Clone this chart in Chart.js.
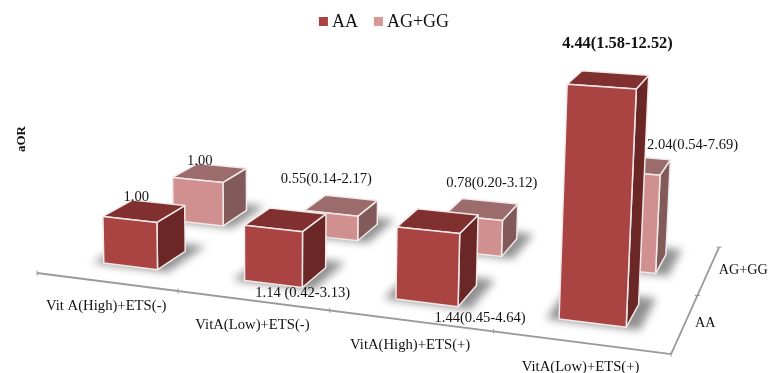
<!DOCTYPE html>
<html>
<head>
<meta charset="utf-8">
<title>aOR chart</title>
<script src="https://cdn.jsdelivr.net/npm/chart.js@4"></script>
<style>
    html, body { margin: 0; padding: 0; background: #fff; }
    canvas { display: block; }
</style>
</head>
<body>
<canvas id="aorChart" width="768" height="373"></canvas>
<script>
// Chart data
const categories = ['Vit A(High)+ETS(-)', 'VitA(Low)+ETS(-)', 'VitA(High)+ETS(+)', 'VitA(Low)+ETS(+)'];
const aaValues = [1.00, 1.14, 1.44, 4.44];
const aggValues = [1.00, 0.55, 0.78, 2.04];
const aaLabels = ['1.00', '1.14 (0.42-3.13)', '1.44(0.45-4.64)', '4.44(1.58-12.52)'];
const aggLabels = ['1.00', '0.55(0.14-2.17)', '0.78(0.20-3.12)', '2.04(0.54-7.69)'];
const seriesNames = ['AA', 'AG+GG'];
const axisTitle = 'aOR';

// Colours of each series: front, top, side
const aaFaces = ['#a94442', '#7f302f', '#6a2725'];
const aggFaces = ['#d09090', '#9c6b6b', '#825a5a'];
const edgeColor = '#f1e9e9';
const axisColor = '#9a9a9a';
const serifFont = '"Liberation Serif", "Times New Roman", serif';

// Where the floor and the bar rows sit in the 3D box
const rowDepth = [0.26, 0.76];
const barDepth = 0.2;
const yMax = 5;

// Label position relative to the middle of a bar's top, in pixels
const aaLabelOffsets = [[-8, -14], [17, 74], [42, 97], [9, -36]];
const aggLabelOffsets = [[-10, -12], [-15, -26], [10, -26], [58, -20]];

// Perspective: maps t (0..4 along the categories), d (0..1 into the page) and z (height in value units)
function project(t, d, z) {
    const g = -0.0056 * z;
    const w = 1 - 0.0355 * t + 0.183 * d + g;
    return {
        x: (37 + 134.7 * t + 172.8 * d + 270 * g) / w,
        y: (273 + 7.7 * t - 46.5 * d + 8700 * g) / w
    };
}

function fillFace(ctx, points, color, stroke) {
    ctx.beginPath();
    points.forEach((p, i) => i ? ctx.lineTo(p.x, p.y) : ctx.moveTo(p.x, p.y));
    ctx.closePath();
    ctx.fillStyle = color;
    ctx.fill();
    if (stroke) {
        ctx.strokeStyle = edgeColor;
        ctx.lineWidth = 1.5;
        ctx.lineJoin = 'round';
        ctx.stroke();
    }
}

function drawLine(ctx, a, b) {
    ctx.beginPath();
    ctx.moveTo(a.x, a.y);
    ctx.lineTo(b.x, b.y);
    ctx.stroke();
}

function drawText(ctx, text, x, y, font, align) {
    ctx.font = font;
    ctx.fillStyle = '#111';
    ctx.textAlign = align || 'center';
    ctx.textBaseline = 'middle';
    ctx.fillText(text, x, y);
}

// Read a bar element from the library's scales and turn it into box coordinates
function barBox(chart, bar) {
    const perCategory = chart.scales.x.width / categories.length;
    const unit = chart.scales.y.getPixelForValue(0) - chart.scales.y.getPixelForValue(1);
    return {
        t0: (bar.x - bar.width / 2 - chart.scales.x.left) / perCategory,
        t1: (bar.x + bar.width / 2 - chart.scales.x.left) / perCategory,
        z: (bar.base - bar.y) / unit
    };
}

// Floor shadows
function drawShadow(ctx, box, depth) {
    const d0 = depth - barDepth / 2 - 0.01;
    const d1 = depth + barDepth / 2 + 0.07;
    ctx.save();
    ctx.filter = 'blur(4px)';
    fillFace(ctx, [
        project(box.t0 - 0.07, d0, 0),
        project(box.t1 + 0.08, d0, 0),
        project(box.t1 + 0.08, d1, 0),
        project(box.t0 - 0.07, d1, 0)
    ], 'rgba(70, 70, 70, 0.6)');
    ctx.restore();
}

// One 3D bar
function drawBar(ctx, box, depth, faces) {
    const d0 = depth - barDepth / 2;
    const d1 = depth + barDepth / 2;
    fillFace(ctx, [project(box.t1, d0, 0), project(box.t1, d1, 0), project(box.t1, d1, box.z), project(box.t1, d0, box.z)], faces[2], true);
    fillFace(ctx, [project(box.t0, d0, box.z), project(box.t1, d0, box.z), project(box.t1, d1, box.z), project(box.t0, d1, box.z)], faces[1], true);
    fillFace(ctx, [project(box.t0, d0, 0), project(box.t1, d0, 0), project(box.t1, d0, box.z), project(box.t0, d0, box.z)], faces[0], true);
}

function drawFloorAxes(ctx) {
    ctx.strokeStyle = axisColor;
    ctx.lineWidth = 1.8;
    drawLine(ctx, project(0, 0, 0), project(categories.length, 0, 0));
    drawLine(ctx, project(categories.length, 0, 0), project(categories.length, 1, 0));
    ctx.lineWidth = 1;
    for (let t = 0; t <= categories.length; t++) {
        const p = project(t, 0, 0);
        drawLine(ctx, { x: p.x, y: p.y - 2.5 }, { x: p.x, y: p.y + 2.5 });
    }
    [0.5, 1].forEach(d => {
        const p = project(categories.length, d, 0);
        drawLine(ctx, { x: p.x - 2.5, y: p.y }, { x: p.x + 2.5, y: p.y });
    });
}

function drawLegend(chart) {
    const ctx = chart.ctx;
    const font = '18px ' + serifFont;
    const boxSize = 9;
    const textGap = 4;
    const itemGap = 16;
    ctx.font = font;
    const widths = seriesNames.map(name => boxSize + textGap + ctx.measureText(name).width);
    let x = (chart.width - widths[0] - widths[1] - itemGap) / 2;
    seriesNames.forEach((name, i) => {
        ctx.fillStyle = chart.data.datasets[i].backgroundColor;
        ctx.fillRect(x, 17, boxSize, boxSize);
        drawText(ctx, name, x + boxSize + textGap, 22, font, 'left');
        x += widths[i] + itemGap;
    });
}

function drawLabels(chart, boxes) {
    const ctx = chart.ctx;
    const labelFont = '14.6px ' + serifFont;
    const tickFont = '14.7px ' + serifFont;

    // Category and row labels on the floor
    chart.data.labels.forEach((name, i) => {
        const p = project(i + 0.5, 0, 0);
        drawText(ctx, name, p.x, p.y + 24.5, tickFont);
    });
    seriesNames.forEach((name, i) => {
        const p = project(categories.length, i === 0 ? 0.25 : 0.75, 0);
        drawText(ctx, name, p.x + 10, p.y, '14.2px ' + serifFont, 'left');
    });

    // Value labels
    [[aaLabels, aaLabelOffsets], [aggLabels, aggLabelOffsets]].forEach(([texts, offsets], row) => {
        boxes[row].forEach((box, i) => {
            const top = project((box.t0 + box.t1) / 2, rowDepth[row], box.z);
            const bold = row === 0 && i === 3;
            drawText(ctx, texts[i], top.x + offsets[i][0], top.y + offsets[i][1],
                bold ? 'bold 16.4px ' + serifFont : labelFont);
        });
    });

    // Axis title
    ctx.save();
    ctx.translate(22, 139);
    ctx.rotate(-Math.PI / 2);
    drawText(ctx, axisTitle, 0, 0, 'bold 13px ' + serifFont);
    ctx.restore();
}

// Replaces the flat bars with 3D ones built from the bar elements
const bars3d = {
    id: 'bars3d',
    beforeDatasetsDraw(chart) {
        const ctx = chart.ctx;
        const boxes = [0, 1].map(i => chart.getDatasetMeta(i).data.map(bar => barBox(chart, bar)));

        drawFloorAxes(ctx);
        [1, 0].forEach(row => {
            const faces = row === 0 ? aaFaces : aggFaces;
            boxes[row].forEach(box => drawShadow(ctx, box, rowDepth[row]));
            boxes[row].forEach(box => drawBar(ctx, box, rowDepth[row], faces));
        });
        drawLabels(chart, boxes);
        drawLegend(chart);
        return false;
    }
};

// Initialize chart
function initChart() {
    new Chart(document.getElementById('aorChart').getContext('2d'), {
        type: 'bar',
        data: {
            labels: categories,
            datasets: [
                { label: seriesNames[0], data: aaValues, backgroundColor: aaFaces[0], grouped: false, barPercentage: 0.39, categoryPercentage: 1 },
                { label: seriesNames[1], data: aggValues, backgroundColor: '#d99694', grouped: false, barPercentage: 0.39, categoryPercentage: 1 }
            ]
        },
        options: {
            responsive: false,
            animation: false,
            plugins: {
                legend: { display: false },
                tooltip: { enabled: false }
            },
            scales: {
                x: { display: false },
                y: { display: false, min: 0, max: yMax }
            }
        },
        plugins: [bars3d]
    });
}

initChart();
</script>
</body>
</html>
